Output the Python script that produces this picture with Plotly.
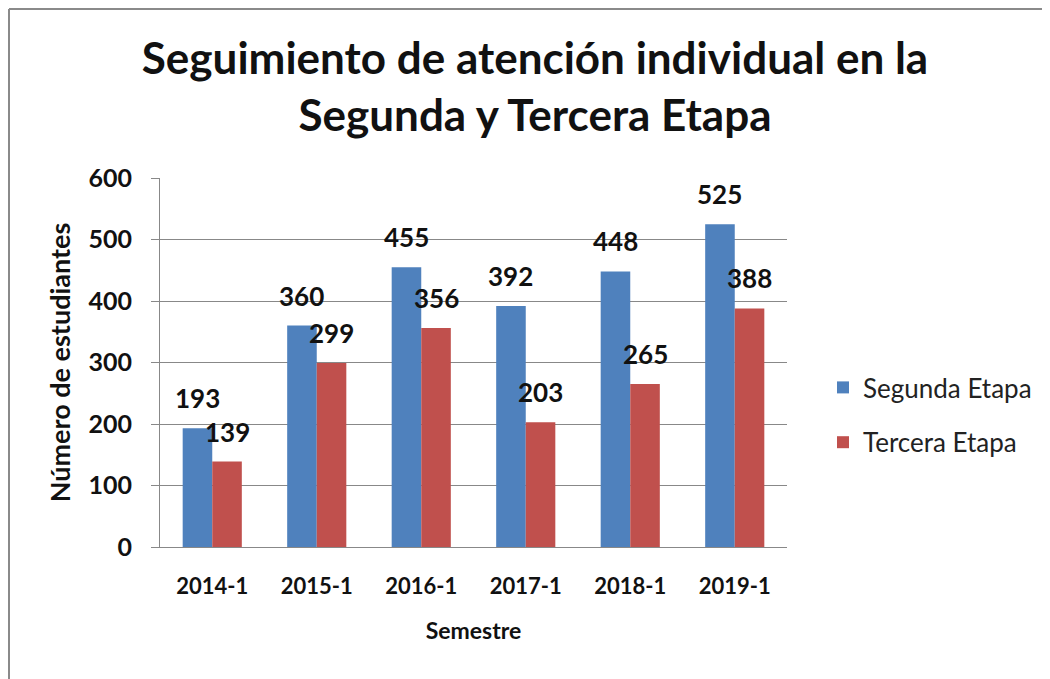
import plotly.graph_objects as go

semestres = ['2014-1', '2015-1', '2016-1', '2017-1', '2018-1', '2019-1']
segunda = [193, 360, 455, 392, 448, 525]
tercera = [139, 299, 356, 203, 265, 388]

colors = {'segunda': '#4F81BD', 'tercera': '#C0504D'}
FONT = 'Lato, Open Sans, sans-serif'

# page body adds an 8px margin, so the figure is a bit smaller than the window
W, H = 1042, 671
L, R, T, B = 152, 263, 170, 132
PW, PH = W - L - R, H - T - B

fig = go.Figure()
fig.add_trace(go.Bar(x=semestres, y=segunda, name='Segunda Etapa',
                     marker=dict(color=colors['segunda'], line=dict(width=0)),
                     legendgroup='a'))
fig.add_trace(go.Bar(x=semestres, y=tercera, name='Tercera Etapa',
                     marker=dict(color=colors['tercera'], line=dict(width=0)),
                     legendgroup='b'))

# data labels above each bar
for vals, dx in [(segunda, -15), (tercera, 15)]:
    for s, v in zip(semestres, vals):
        fig.add_annotation(x=s, y=v, text=str(v), showarrow=False,
                           xshift=dx, yshift=12, yanchor='bottom',
                           font=dict(family=FONT, size=26, color='#111111', weight='bold'))

fig.update_layout(
    width=W, height=H,
    margin=dict(l=L, r=R, t=T, b=B),
    paper_bgcolor='white', plot_bgcolor='white',
    font=dict(family=FONT, color='#111111'),
    barmode='group', bargap=0.434, bargroupgap=0,
    title=dict(text='Seguimiento de atención individual en la<br>Segunda y Tercera Etapa',
               x=527 / W, xref='container', xanchor='center',
               y=1 - 66 / H, yref='container', yanchor='middle',
               font=dict(family=FONT, size=44, color='#111111', weight='bold')),
    legend=dict(x=(815 - L) / PW, y=(H - B - 407) / PH,
                xanchor='left', yanchor='middle',
                font=dict(family=FONT, size=26, color='#222222'),
                tracegroupgap=18, itemwidth=30),
    showlegend=True,
)

fig.update_xaxes(
    type='category',
    showline=True, linecolor='#888888', linewidth=1,
    showgrid=False, ticks='',
    ticklabelstandoff=20,
    tickfont=dict(family=FONT, size=22, color='#111111', weight='bold'),
    title=dict(text='Semestre', standoff=24,
               font=dict(family=FONT, size=23, color='#111111', weight='bold')),
)
fig.update_yaxes(
    range=[0, 600], dtick=100,
    showline=True, linecolor='#888888', linewidth=1,
    showgrid=True, gridcolor='#888888', gridwidth=1,
    ticks='outside', ticklen=8, tickcolor='#888888',
    ticklabelstandoff=14,
    tickfont=dict(family=FONT, size=25, color='#111111', weight='bold'),
    title=dict(text='Número de estudiantes', standoff=10,
               font=dict(family=FONT, size=27, color='#111111', weight='bold')),
    zeroline=False,
)

# chart outer border (left and top edges visible)
fig.add_shape(type='line', xref='paper', yref='paper',
              x0=(1 - L) / PW, x1=(W + 10 - L) / PW,
              y0=(H - 1 - B) / PH, y1=(H - 1 - B) / PH,
              line=dict(color='#8a8a8a', width=2))
fig.add_shape(type='line', xref='paper', yref='paper',
              x0=(1 - L) / PW, x1=(1 - L) / PW,
              y0=(-10 - B) / PH, y1=(H - 1 - B) / PH,
              line=dict(color='#8a8a8a', width=2))

fig.write_html('out.html')
